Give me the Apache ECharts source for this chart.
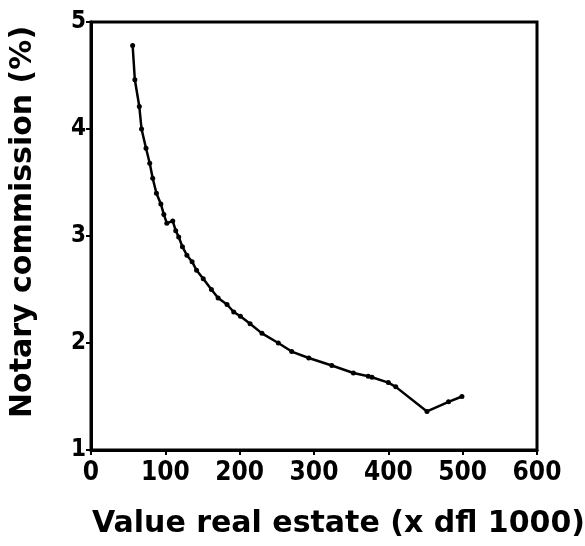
<!DOCTYPE html>
<html>
<head>
<meta charset="utf-8">
<script src="https://cdn.jsdelivr.net/npm/echarts@6/dist/echarts.min.js"></script>
<style>
html,body{margin:0;padding:0;background:#fff;}
#chart{width:585px;height:546px;}
</style>
</head>
<body>
<div id="chart"></div>
<script>
var valueX = [56, 59, 65, 68, 74, 79, 83, 88, 94, 98, 102, 110, 114, 118, 123, 129, 136, 142, 151, 162, 171, 183, 192, 201, 214, 230, 252, 270, 293, 324, 353, 373, 378, 400, 410, 452, 481, 499];
var commission = [4.78, 4.46, 4.21, 4.00, 3.82, 3.68, 3.54, 3.40, 3.30, 3.20, 3.12, 3.14, 3.05, 2.99, 2.90, 2.82, 2.76, 2.68, 2.60, 2.50, 2.42, 2.36, 2.29, 2.25, 2.18, 2.09, 2.00, 1.92, 1.86, 1.79, 1.72, 1.69, 1.68, 1.63, 1.59, 1.36, 1.45, 1.50];
var xTitle = 'Value real estate (x dfl 1000)';
var yTitle = 'Notary commission (%)';

var points = valueX.map(function (v, i) { return [v, commission[i]]; });
var tickFont = '"Liberation Sans Narrow", "DejaVu Sans Condensed", sans-serif';
var titleFont = '"DejaVu Sans", sans-serif';

var chart = echarts.init(document.getElementById('chart'), null, {renderer: 'canvas'});
chart.setOption({
  animation: false,
  backgroundColor: '#fff',
  grid: {
    left: 91, right: 48, top: 22, bottom: 96,
    outerBoundsMode: 'none', containLabel: false,
    show: true, borderColor: '#000', borderWidth: 3, backgroundColor: 'transparent'
  },
  xAxis: {
    type: 'value', min: 0, max: 600, interval: 100,
    name: xTitle, nameLocation: 'middle', nameGap: 59,
    nameTextStyle: {fontFamily: titleFont, fontWeight: 'bold', fontSize: 30, color: '#000', padding: [0, 0, 0, 49]},
    axisLine: {show: true, lineStyle: {color: '#000', width: 3}},
    axisTick: {show: true, length: 5, lineStyle: {color: '#000', width: 2}},
    axisLabel: {fontFamily: tickFont, fontWeight: 'bold', fontSize: 26, color: '#000', margin: 10},
    splitLine: {show: false}
  },
  yAxis: {
    type: 'value', min: 1, max: 5, interval: 1,
    name: yTitle, nameLocation: 'middle', nameGap: 53,
    nameTextStyle: {fontFamily: titleFont, fontWeight: 'bold', fontSize: 30, color: '#000', padding: [0, 0, 0, 28]},
    axisLine: {show: true, lineStyle: {color: '#000', width: 3}},
    axisTick: {show: true, length: 5, lineStyle: {color: '#000', width: 2}},
    axisLabel: {fontFamily: tickFont, fontWeight: 'bold', fontSize: 24, color: '#000', margin: 5},
    splitLine: {show: false}
  },
  series: [{
    type: 'line',
    data: points,
    symbol: 'circle',
    symbolSize: 5,
    showAllSymbol: true,
    itemStyle: {color: '#000'},
    lineStyle: {color: '#000', width: 2.5}
  }]
});
</script>
</body>
</html>
